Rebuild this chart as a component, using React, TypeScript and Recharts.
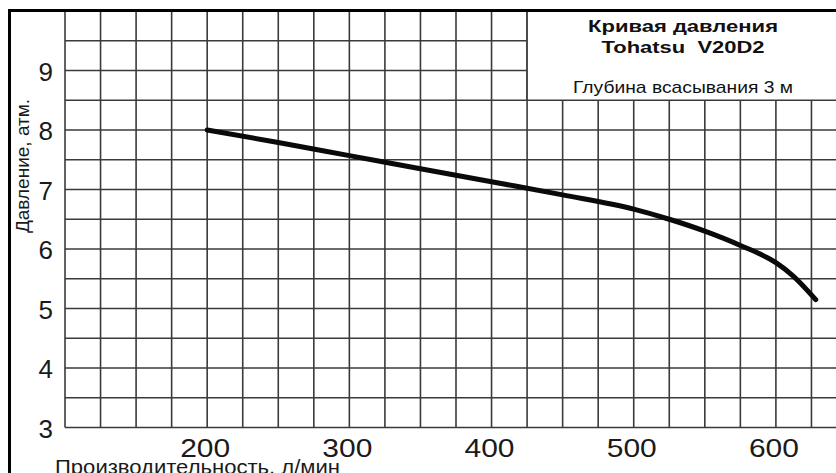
import React from 'react';
import { LineChart, Line, XAxis, YAxis, CartesianGrid, ReferenceArea } from 'recharts';

// Кривая давления Tohatsu V20D2
const flowLpm = [200, 250, 300, 350, 400, 450, 500, 525, 550, 575, 600, 612, 628];
const pressureAtm = [8.0, 7.79, 7.57, 7.35, 7.13, 6.91, 6.67, 6.5, 6.3, 6.06, 5.77, 5.55, 5.15];

const xGridTicks = [
  100, 125, 150, 175, 200, 225, 250, 275, 300, 325, 350, 375, 400, 425, 450, 475, 500, 525, 550, 575,
  600, 625, 650,
];
const yGridTicks = [3, 3.5, 4, 4.5, 5, 5.5, 6, 6.5, 7, 7.5, 8, 8.5, 9, 9.5, 10];
const xLabelTicks = [200, 300, 400, 500, 600];
const yLabelTicks = [3, 4, 5, 6, 7, 8, 9];

const FONT = '"Liberation Sans", Arial, sans-serif';
const GRID = '#3a3a3a';

const chartData = flowLpm.map((x, i) => ({ x, p: pressureAtm[i] }));

const XTick = (props: any) => {
  const { x, payload } = props;
  if (!xLabelTicks.includes(payload.value)) return <g />;
  return (
    <text
      x={x - 2}
      y={457}
      textAnchor="middle"
      fontFamily={FONT}
      fontSize={25}
      fill="#1a1a1a"
      textLength={50}
      lengthAdjust="spacingAndGlyphs"
    >
      {payload.value}
    </text>
  );
};

const YTick = (props: any) => {
  const { y, payload } = props;
  if (!yLabelTicks.includes(payload.value)) return <g />;
  return (
    <text x={53} y={y + 10} textAnchor="end" fontFamily={FONT} fontSize={26} fill="#1a1a1a">
      {payload.value}
    </text>
  );
};

const BoxLabel = () => {
  const cx = 683;
  return (
    <g fontFamily={FONT} fill="#111">
      <text x={cx} y={32} textAnchor="middle" fontSize={16.5} fontWeight="bold" textLength={190} lengthAdjust="spacingAndGlyphs">
        Кривая давления
      </text>
      <text x={cx} y={53} textAnchor="middle" fontSize={17} fontWeight="bold" textLength={163} lengthAdjust="spacingAndGlyphs">
        {'Tohatsu\u00A0 V20D2'}
      </text>
      <text x={cx} y={92.5} textAnchor="middle" fontSize={17} textLength={220} lengthAdjust="spacingAndGlyphs">
        Глубина всасывания 3 м
      </text>
    </g>
  );
};

export default function App() {
  return (
    <div
      style={{
        position: 'fixed',
        left: 0,
        top: 0,
        width: 836,
        height: 473,
        overflow: 'hidden',
        background: '#ffffff',
      }}
    >
      <LineChart width={850} height={473} data={chartData} margin={{ top: 11, right: 3, bottom: 0, left: 0 }}>
        <CartesianGrid stroke={GRID} strokeWidth={1.6} />
        <XAxis
          dataKey="x"
          type="number"
          domain={[100, 650]}
          ticks={xGridTicks}
          interval={0}
          axisLine={false}
          tickLine={false}
          height={45.5}
          tick={XTick}
          allowDataOverflow
        />
        <YAxis
          type="number"
          domain={[3, 10]}
          ticks={yGridTicks}
          interval={0}
          axisLine={false}
          tickLine={false}
          width={65}
          tick={YTick}
          allowDataOverflow
        />
        <ReferenceArea
          x1={425}
          x2={650}
          y1={8.5}
          y2={10}
          fill="#ffffff"
          fillOpacity={1}
          stroke={GRID}
          strokeWidth={1.6}
          label={BoxLabel}
        />
        <Line
          type="monotone"
          dataKey="p"
          stroke="#0a0a0a"
          strokeWidth={5}
          strokeLinecap="round"
          dot={false}
          activeDot={false}
          isAnimationActive={false}
        />
        <text
          x={22}
          y={166}
          transform="rotate(-90 22 166)"
          textAnchor="middle"
          dominantBaseline="central"
          fontFamily={FONT}
          fontSize={19}
          fill="#1a1a1a"
        >
          Давление, атм.
        </text>
        <text x={55} y={474} fontFamily={FONT} fontSize={21} fill="#1a1a1a" textLength={285} lengthAdjust="spacingAndGlyphs">
          Производительность, л/мин
        </text>
      </LineChart>
      <div
        style={{
          position: 'absolute',
          left: 8,
          top: 9,
          width: 900,
          height: 500,
          borderTop: '3px solid #000',
          borderLeft: '3px solid #000',
          pointerEvents: 'none',
        }}
      />
    </div>
  );
}
